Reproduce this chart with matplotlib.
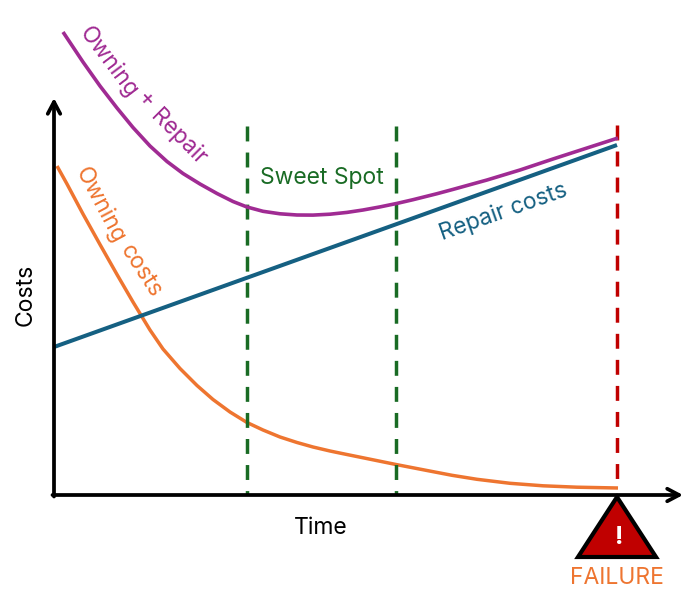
import matplotlib
matplotlib.use("Agg")
import matplotlib.pyplot as plt
from matplotlib.patches import Polygon

plt.rcParams['font.family'] = ['Inter', 'DejaVu Sans']

# Time / cost readings (time and cost measured from the axis origin)
purple_t = [9, 29, 46, 63, 79, 96, 113, 129, 146, 163, 179, 193, 209, 226, 243, 259, 276, 293, 309, 326, 343, 359, 383, 399, 433, 466, 499, 533, 564]
purple_c = [463, 433, 409, 387, 367.5, 349, 333.5, 321.5, 311, 301.5, 293.5, 288, 283.7, 281.2, 280, 279.9, 280.8, 282.6, 285, 288.1, 291.6, 295.3, 301.3, 305.6, 315, 325, 336, 347, 357]
orange_t = [3, 13, 29, 46, 63, 79, 96, 109, 126, 143, 159, 176, 193, 209, 226, 243, 259, 276, 289, 316, 342, 373, 398, 423, 456, 489, 523, 564]
orange_c = [329, 311, 281, 250.5, 220.5, 193, 165, 146, 126.5, 109.5, 95.5, 83, 72.5, 65, 58, 52.5, 48, 44, 41.3, 35.8, 30.5, 24.5, 19.7, 15.7, 11.7, 9.2, 7.8, 7]
repair_t = [0, 563]
repair_c = [148, 350]
sweet_spot = [193, 342]
failure_time = 562.5

GREEN = '#196b24'
RED = '#c00000'
ORANGE = '#ee7530'
PURPLE = '#a02b93'
BLUE = '#156082'

fig = plt.figure(figsize=(7, 6.09), dpi=100)
ax = fig.add_axes([0, 0, 1, 1])
ax.set_xlim(-54, 646)
ax.set_ylim(-114, 495)
ax.axis('off')

dash = (0, (4.3, 3.2))
ax.plot(orange_t, orange_c, color=ORANGE, lw=2.5, solid_capstyle='butt', solid_joinstyle='round', zorder=1)
# guide lines are drawn from the top down so the dashes start at the top
for t in sweet_spot:
    ax.plot([t, t], [369, 0], color=GREEN, lw=2.5, ls=dash, zorder=2)
ax.plot([failure_time, failure_time], [370, 6], color=RED, lw=2.5, ls=dash, zorder=2)

ax.plot(repair_t, repair_c, color=BLUE, lw=2.9, solid_capstyle='butt', zorder=3)
ax.plot(purple_t, purple_c, color=PURPLE, lw=2.6, solid_capstyle='butt', solid_joinstyle='round', zorder=4)

# axes arrows
arrow = dict(arrowstyle='->,head_length=0.85,head_width=0.45', color='black', lw=2.7, shrinkA=0, shrinkB=0)
ax.annotate('', xy=(629, 0), xytext=(-1.5, 0), arrowprops=arrow, zorder=5)
ax.annotate('', xy=(0, 397), xytext=(0, -1.5), arrowprops=arrow, zorder=5)

# failure triangle
ax.add_patch(Polygon([(524, -62), (563, -2), (602, -62)], closed=True, facecolor=RED,
                     edgecolor='black', lw=3, joinstyle='miter', zorder=6))
ax.text(565.5, -42, '!', color='white', fontsize=18, fontweight='bold', ha='center', va='center', zorder=7)

fs = 16.5
ax.text(267, -32.5, 'Time', fontsize=fs, ha='center', va='center', color='black')
ax.text(-28, 200, 'Costs', fontsize=fs, ha='center', va='center', rotation=90, color='black')
ax.text(563, -83, 'FAILURE', fontsize=fs, ha='center', va='center', color=ORANGE)
ax.text(268, 317, 'Sweet Spot', fontsize=fs, ha='center', va='center', color=GREEN)
ax.text(449, 283, 'Repair costs', fontsize=fs, ha='center', va='center', rotation=19.5, color=BLUE, rotation_mode='anchor')
ax.text(46, 290, 'Owning', fontsize=fs, ha='center', va='center', rotation=-62, color=ORANGE, rotation_mode='anchor')
ax.text(87, 224, 'costs', fontsize=fs, ha='center', va='center', rotation=-57, color=ORANGE, rotation_mode='anchor')
ax.text(55, 433, 'Owning', fontsize=fs, ha='center', va='center', rotation=-53, color=PURPLE, rotation_mode='anchor')
ax.text(92, 395, '+', fontsize=fs, ha='center', va='center', rotation=-48, color=PURPLE, rotation_mode='anchor')
ax.text(124, 358, 'Repair', fontsize=fs, ha='center', va='center', rotation=-45, color=PURPLE, rotation_mode='anchor')

fig.savefig('out.png', dpi=100)
